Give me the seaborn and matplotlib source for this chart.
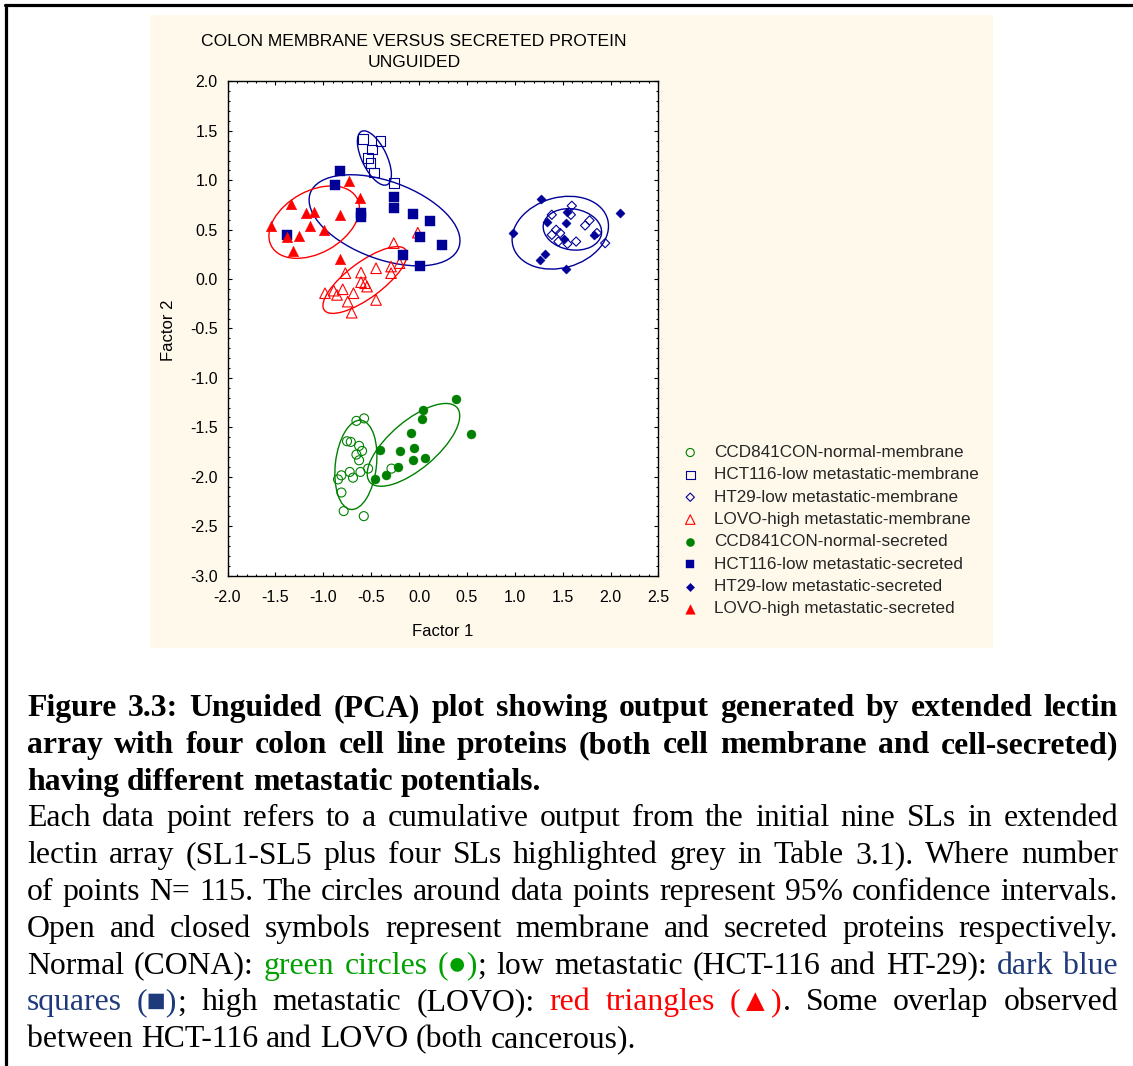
import numpy as np
import pandas as pd
import matplotlib
matplotlib.use("Agg")
import matplotlib.pyplot as plt
import seaborn as sns
from matplotlib.patches import Ellipse, Rectangle
from matplotlib.lines import Line2D
from matplotlib.ticker import MultipleLocator, FormatStrFormatter

# ---------------- data ----------------
ccd_mem_x = [-0.654, -0.574, -0.752, -0.713, -0.626, -0.595, -0.654, -0.626, -0.724,
             -0.811, -0.846, -0.690, -0.612, -0.532, -0.288, -0.811, -0.787, -0.577]
ccd_mem_y = [-1.435, -1.410, -1.641, -1.648, -1.688, -1.739, -1.776, -1.834, -1.952,
             -1.986, -2.027, -2.010, -1.952, -1.918, -1.918, -2.160, -2.348, -2.399]

hct_mem_x = [-0.588, -0.403, -0.494, -0.536, -0.507, -0.473, -0.264]
hct_mem_y = [1.420, 1.395, 1.310, 1.226, 1.175, 1.080, 0.973]

ht29_mem_x = [1.595, 1.386, 1.585, 1.780, 1.734, 1.431, 1.473, 1.386, 1.455, 1.549, 1.640, 1.857, 1.943]
ht29_mem_y = [0.742, 0.651, 0.651, 0.594, 0.543, 0.499, 0.466, 0.448, 0.380, 0.357, 0.380, 0.466, 0.364]

lovo_mem_x = [-0.264, -0.292, -0.292, -0.204, -0.449, -0.606, -0.769, -0.606, -0.564, -0.543,
              -0.797, -0.891, -0.982, -0.857, -0.685, -0.745, -0.449, -0.703, -0.013]
lovo_mem_y = [0.364, 0.127, 0.060, 0.161, 0.110, 0.066, 0.060, -0.031, -0.042, -0.076,
              -0.103, -0.117, -0.143, -0.160, -0.143, -0.228, -0.211, -0.340, 0.470]

ccd_sec_x = [0.385, 0.043, 0.033, 0.538, -0.079, -0.194, -0.051, 0.061, -0.068, -0.403, -0.219, -0.347, -0.459]
ccd_sec_y = [-1.215, -1.320, -1.420, -1.570, -1.556, -1.742, -1.708, -1.806, -1.834, -1.732, -1.900, -1.986, -2.022]

hct_sec_x = [-0.825, -0.873, -1.380, -0.606, -0.606, -0.264, -0.264, -0.065, 0.116, 0.005, 0.242, -0.170, 0.005]
hct_sec_y = [1.090, 0.955, 0.450, 0.668, 0.628, 0.830, 0.720, 0.658, 0.590, 0.425, 0.344, 0.245, 0.134]

ht29_sec_x = [1.271, 2.093, 0.978, 1.340, 1.543, 1.536, 1.515, 1.829, 1.316, 1.264, 1.536]
ht29_sec_y = [0.810, 0.668, 0.466, 0.573, 0.678, 0.567, 0.405, 0.448, 0.256, 0.195, 0.100]

lovo_sec_x = [-1.547, -1.338, -1.181, -1.093, -1.135, -0.996, -1.250, -1.380, -1.320, -0.828, -0.727, -0.612, -0.828]
lovo_sec_y = [0.540, 0.760, 0.668, 0.680, 0.533, 0.499, 0.438, 0.425, 0.286, 0.651, 0.996, 0.820, 0.200]

group_labels = ["CCD841CON-normal-membrane", "HCT116-low metastatic-membrane",
                "HT29-low metastatic-membrane", "LOVO-high metastatic-membrane",
                "CCD841CON-normal-secreted", "HCT116-low metastatic-secreted",
                "HT29-low metastatic-secreted", "LOVO-high metastatic-secreted"]
group_x = [ccd_mem_x, hct_mem_x, ht29_mem_x, lovo_mem_x, ccd_sec_x, hct_sec_x, ht29_sec_x, lovo_sec_x]
group_y = [ccd_mem_y, hct_mem_y, ht29_mem_y, lovo_mem_y, ccd_sec_y, hct_sec_y, ht29_sec_y, lovo_sec_y]

title_lines = ["COLON MEMBRANE VERSUS SECRETED PROTEIN", "UNGUIDED"]
x_label = "Factor 1"
y_label = "Factor 2"

# ---------------- styles ----------------
GREEN = "#008000"
BLUE = "#000099"
RED = "#FF0000"
group_colors = [GREEN, BLUE, BLUE, RED, GREEN, BLUE, BLUE, RED]
group_markers = ["o", "s", "D", "^", "o", "s", "D", "^"]
group_open = [True, True, True, True, False, False, False, False]
group_sizes = [42, 48, 22, 58, 42, 48, 22, 58]
ELLIPSE_SCALE = 1.68

rows = []
for lab, xs, ys in zip(group_labels, group_x, group_y):
    for a, b in zip(xs, ys):
        rows.append({"group": lab, "Factor 1": a, "Factor 2": b})
df = pd.DataFrame(rows)

sns.set_theme(style="white")
plt.rcParams["font.family"] = ["Liberation Sans", "DejaVu Sans"]
plt.rcParams["axes.unicode_minus"] = False

W, H = 1133, 1066
fig = plt.figure(figsize=(W / 100, H / 100), dpi=100, facecolor="white")


def fx(px):
    return px / W


def fy(py):
    return 1 - py / H


# page border (left + top rules)
fig.add_artist(Line2D([fx(6), fx(6)], [fy(4.5), 0], color="black", lw=2.3, zorder=5))
fig.add_artist(Line2D([fx(5), 1], [fy(5), fy(5)], color="black", lw=2.3, zorder=5))
# cream chart panel
fig.add_artist(Rectangle((fx(150), fy(648)), (993 - 150) / W, (648 - 15) / H,
                         facecolor="#FFF9EC", edgecolor="none", zorder=-2))

L, T, R, B = 227.5, 81.5, 658.5, 575.5
ax = fig.add_axes([fx(L), fy(B), (R - L) / W, (B - T) / H])
ax.set_facecolor("white")

for lab, col, mk, op, sz in zip(group_labels, group_colors, group_markers, group_open, group_sizes):
    sub = df[df["group"] == lab]
    if op:
        sns.scatterplot(data=sub, x="Factor 1", y="Factor 2", ax=ax, marker=mk, s=sz,
                        facecolors="none", edgecolor=col, linewidth=0.8, label=lab, zorder=3)
    else:
        sns.scatterplot(data=sub, x="Factor 1", y="Factor 2", ax=ax, marker=mk, s=sz,
                        color=col, edgecolor=col, linewidth=0.3, label=lab, zorder=4)
    xs = sub["Factor 1"].to_numpy()
    ys = sub["Factor 2"].to_numpy()
    cov = np.cov(xs, ys)
    vals, vecs = np.linalg.eigh(cov)
    order = vals.argsort()[::-1]
    vals, vecs = vals[order], vecs[:, order]
    ang = np.degrees(np.arctan2(vecs[1, 0], vecs[0, 0]))
    ax.add_patch(Ellipse((xs.mean(), ys.mean()), 2 * ELLIPSE_SCALE * np.sqrt(vals[0]),
                         2 * ELLIPSE_SCALE * np.sqrt(vals[1]), angle=ang, fill=False,
                         edgecolor=col, lw=1.0, zorder=2))

ax.set_xlim(-2.0, 2.5)
ax.set_ylim(-3.0, 2.0)
ax.xaxis.set_major_locator(MultipleLocator(0.5))
ax.xaxis.set_minor_locator(MultipleLocator(0.1))
ax.yaxis.set_major_locator(MultipleLocator(0.5))
ax.yaxis.set_minor_locator(MultipleLocator(0.1))
ax.xaxis.set_major_formatter(FormatStrFormatter("%.1f"))
ax.yaxis.set_major_formatter(FormatStrFormatter("%.1f"))
ax.tick_params(which="both", direction="in", top=True, right=True, bottom=True, left=True,
               color="black", width=0.8)
ax.tick_params(which="major", length=3.2)
ax.tick_params(which="minor", length=1.7)
ax.tick_params(axis="x", which="major", labelsize=11.5, pad=10.5, labelcolor="black")
ax.tick_params(axis="y", which="major", labelsize=11.5, pad=7, labelcolor="black")
for sp in ax.spines.values():
    sp.set_color("black")
    sp.set_linewidth(1.0)

ax.set_xlabel(x_label, fontsize=12, color="black", va="center")
ax.set_ylabel(y_label, fontsize=12, color="black", va="center")
ax.xaxis.set_label_coords(0.5, (B - 631) / (B - T))
ax.yaxis.set_label_coords((168 - L) / (R - L), (B - 330) / (B - T))

fig.text(fx(414), fy(45.5), title_lines[0], ha="center", va="baseline", fontsize=12.6, color="black")
fig.text(fx(414), fy(67.3), title_lines[1], ha="center", va="baseline", fontsize=12.6, color="black")

handles, labels = ax.get_legend_handles_labels()
ax.legend(handles, labels, loc="upper left", bbox_to_anchor=(fx(681.7), fy(445)),
          bbox_transform=fig.transFigure, frameon=False, fontsize=12.3, markerscale=0.9,
          handlelength=1.0, handletextpad=0.9, labelspacing=0.43, borderpad=0,
          borderaxespad=0)

# ---------------- caption ----------------
BLACK = "#000000"
CGREEN = "#00A000"
DBLUE = "#1F3A7A"
CRED = "#FF0000"
caption = [
    (True, True, [("Figure 3.3: Unguided (PCA) plot showing output generated by extended lectin", BLACK)]),
    (True, True, [("array with four colon cell line proteins (both cell membrane and cell-secreted)", BLACK)]),
    (True, False, [("having different metastatic potentials.", BLACK)]),
    (False, True, [("Each data point refers to a cumulative output from the initial nine SLs in extended", BLACK)]),
    (False, True, [("lectin array (SL1-SL5 plus four SLs highlighted grey in Table 3.1). Where number", BLACK)]),
    (False, True, [("of points N= 115. The circles around data points represent 95% confidence intervals.", BLACK)]),
    (False, True, [("Open and closed symbols represent membrane and secreted proteins respectively.", BLACK)]),
    (False, True, [("Normal (CONA): ", BLACK), ("green circles (\u25cf)", CGREEN),
                   ("; low metastatic (HCT-116 and HT-29): ", BLACK), ("dark blue", DBLUE)]),
    (False, True, [("squares (\u25a0)", DBLUE), ("; high metastatic (LOVO): ", BLACK),
                   ("red triangles (\u25b2)", CRED), (". Some overlap observed", BLACK)]),
    (False, False, [("between HCT-116 and LOVO (both cancerous).", BLACK)]),
]
CAP_FS = 22.9
CAP_FAMILY = ["Liberation Serif", "DejaVu Serif"]
X0, X1 = 27, 1118
BASE0, LINE_H = 716, 36.8

renderer = fig.canvas.get_renderer()


def measure(txt, weight):
    t = fig.text(0, 0, txt, fontsize=CAP_FS, family=CAP_FAMILY, weight=weight)
    w = t.get_window_extent(renderer).width
    t.remove()
    return w


space_w = {w: measure("a a", w) - measure("aa", w) for w in ("bold", "normal")}

for i, (bold, justify, segs) in enumerate(caption):
    weight = "bold" if bold else "normal"
    words = [[]]
    for text, color in segs:
        parts = text.split(" ")
        for j, p in enumerate(parts):
            if j > 0:
                words.append([])
            if p:
                words[-1].append((p, color))
    words = [w for w in words if w]
    widths = [[measure(p, weight) for p, _ in w] for w in words]
    total = sum(sum(ws) for ws in widths)
    if justify and len(words) > 1:
        gap = (X1 - X0 - total) / (len(words) - 1)
    else:
        gap = space_w[weight]
    x = X0
    base = BASE0 + i * LINE_H
    for w, ws in zip(words, widths):
        for (p, color), pw in zip(w, ws):
            fig.text(fx(x), fy(base), p, fontsize=CAP_FS, family=CAP_FAMILY, weight=weight,
                     color=color, ha="left", va="baseline")
            x += pw
        x += gap

fig.savefig("out.png", dpi=100, facecolor="white")
